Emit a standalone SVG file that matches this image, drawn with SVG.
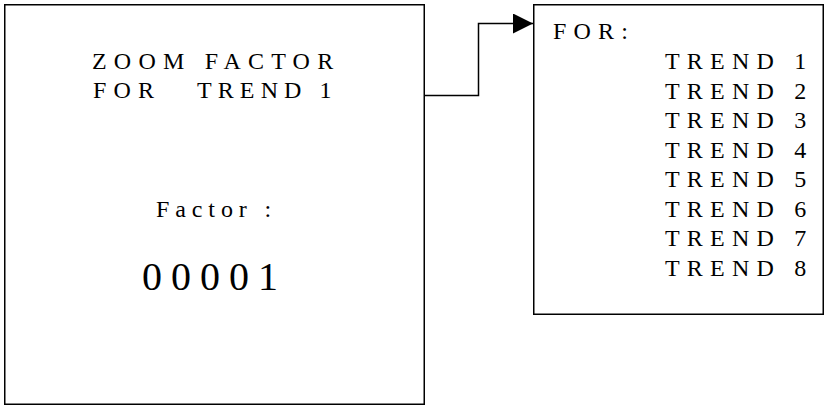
<svg xmlns="http://www.w3.org/2000/svg" width="825" height="406" viewBox="0 0 825 406">
<style>
.box{fill:#fff;stroke:#000;stroke-width:1.5}
.t{font-family:"Liberation Serif","Times New Roman",serif;font-size:24px;fill:#000;letter-spacing:7.2px;white-space:pre}
.big{font-size:40px;letter-spacing:9px}
.wire{fill:none;stroke:#000;stroke-width:1.5}
</style>
<defs>
<marker id="arr" viewBox="0 0 20 20" refX="20" refY="10" markerWidth="20" markerHeight="20" markerUnits="userSpaceOnUse" orient="auto">
<path d="M0,0 L20,10 L0,20 Z" fill="#000"/>
</marker>
</defs>
<g id="node-zoom">
<rect class="box" x="4.75" y="4.75" width="419.5" height="399.5"/>
<text class="t" x="92" y="69">ZOOM FACTOR</text>
<text class="t" x="93" y="98">FOR <tspan x="197" style="letter-spacing:6.1px">TREND 1</tspan></text>
<text class="t" x="156" y="217" style="letter-spacing:5.9px">Factor :</text>
<text class="t big" x="142" y="290">00001</text>
</g>
<g id="node-for">
<rect class="box" x="533.75" y="4.75" width="289.5" height="309.5"/>
<text class="t" x="553" y="39">FOR:</text>
<text class="t" x="665" y="69">TREND 1</text>
<text class="t" x="665" y="98.5">TREND 2</text>
<text class="t" x="665" y="128">TREND 3</text>
<text class="t" x="665" y="157.5">TREND 4</text>
<text class="t" x="665" y="187">TREND 5</text>
<text class="t" x="665" y="216.5">TREND 6</text>
<text class="t" x="665" y="246">TREND 7</text>
<text class="t" x="665" y="275.5">TREND 8</text>
</g>
<g id="connectors">
<path class="wire" d="M424.5,95.5 H478.5 V23.5 H533" marker-end="url(#arr)"/>
</g>
</svg>
